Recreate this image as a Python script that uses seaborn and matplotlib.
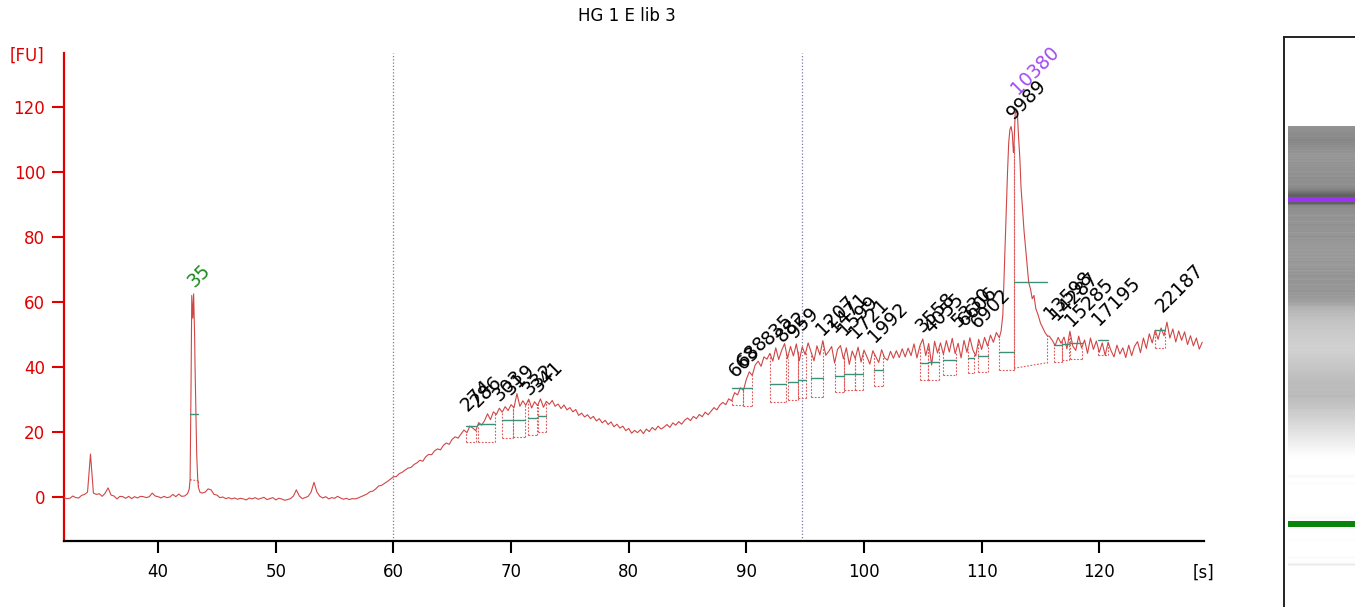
"""Bioanalyzer electropherogram for sample HG 1 E lib 3."""

import matplotlib

matplotlib.use("Agg")
import matplotlib.pyplot as plt
import numpy as np
import pandas as pd
import seaborn as sns

# fluorescence trace on a 0.25 s grid starting at 32 s
T_START, T_STEP = 32.0, 0.25
fu_grid = [
    -0.3, -0.5, -0.4, 0.3, -0.2, -0.3, 0.5, 0.8, 1.5, 13.2, 1.2, 0.8, 1.0, 0.2, 1.2, 2.8, 0.6, 0.3, -0.6, 0.2,
    0.1, -0.4, 0.2, -0.5, 0.1, -0.3, 0.2, 0.1, -0.2, 0.1, 1.2, 0.3, 0.1, -0.3, 0.2, -0.2, 0.0, 0.8, 0.1, 0.9,
    0.2, 0.3, 1.0, 5.5, 62.0, 38.0, 4.5, 1.2, 1.5, 2.5, 2.2, 0.8, 0.6, -0.2, 0.0, -0.5, -0.2, -0.6, -0.3, -0.7,
    -0.4, -0.6, -0.9, -0.3, -0.6, -0.2, -0.7, -0.4, -0.1, -0.8, -0.5, -0.2, -0.9, -0.4, -0.6, -1.0, -0.8, -0.5, 0.3, 2.2,
    0.3, -0.5, -0.2, 0.2, 1.5, 4.5, 1.5, 0.2, -0.3, 0.1, -0.6, -0.2, -0.4, 0.2, -0.3, -0.7, -0.4, -0.8, -0.5, -0.6,
    -0.3, 0.1, 0.5, 0.9, 1.6, 1.8, 2.5, 3.4, 3.6, 4.2, 4.8, 5.5, 6.2, 6.3, 7.2, 7.6, 8.3, 8.9, 9.1, 10.0,
    10.5, 11.3, 11.0, 12.4, 13.1, 13.0, 14.2, 14.8, 14.5, 15.9, 16.6, 16.2, 17.8, 18.5, 18.1, 19.4, 20.6, 19.8, 21.8, 21.2,
    20.4, 22.9, 22.1, 23.5, 25.6, 23.8, 26.2, 25.4, 27.3, 26.1, 27.8, 26.6, 28.4, 27.5, 31.8, 27.9, 29.6, 28.2, 30.1, 27.4,
    29.3, 28.1, 30.2, 27.6, 29.4, 28.5, 29.7, 27.9, 28.6, 27.2, 28.3, 26.8, 27.5, 26.2, 26.9, 25.1, 25.8, 24.6, 25.3, 24.1,
    24.8, 23.4, 24.1, 22.8, 23.6, 22.3, 23.1, 21.6, 22.4, 21.2, 21.8, 20.4, 21.1, 19.6, 20.5, 19.8, 20.7, 19.5, 20.9, 20.1,
    21.4, 20.6, 21.8, 20.9, 21.5, 22.3, 21.4, 22.8, 22.1, 23.2, 22.4, 23.6, 24.3, 23.5, 24.8, 24.1, 25.4, 24.7, 26.1, 25.3,
    26.4, 27.5, 26.8, 28.3, 29.1, 28.4, 30.2, 29.6, 32.1, 31.4, 33.6, 32.8, 36.2, 38.5, 37.4, 40.6, 41.8, 40.2, 43.1, 42.4,
    44.2, 41.8, 45.9, 42.3, 45.1, 47.2, 42.6, 46.3, 43.4, 47.1, 41.9, 46.2, 43.8, 47.4, 44.6, 41.9, 46.5, 43.7, 48.1, 43.6,
    44.8, 46.3, 41.2, 45.4, 46.6, 42.5, 45.9, 40.8, 44.9, 42.6, 46.1, 41.5, 45.2, 43.1, 40.9, 45.0, 43.2, 41.4, 45.3, 42.8,
    42.1, 44.8, 42.7, 45.0, 42.9, 45.6, 43.1, 45.8, 43.5, 47.1, 42.8, 46.5, 48.6, 43.5, 47.2, 40.6, 47.9, 44.3, 47.4, 43.9,
    48.1, 44.6, 48.8, 44.1, 47.3, 42.8, 48.2, 44.5, 49.0, 45.3, 43.4, 48.5, 45.4, 49.1, 46.4, 49.8, 47.6, 50.6, 52.4, 57.8,
    60.0, 90.0, 110.0, 115.0, 118.0, 105.0, 80.0, 65.0, 62.0, 60.0, 57.0, 54.0, 52.0, 51.0, 50.0, 49.5, 48.2, 46.6, 49.1, 47.3,
    49.2, 45.6, 51.0, 46.4, 45.1, 49.5, 45.8, 48.3, 44.2, 48.9, 45.4, 48.0, 44.5, 47.4, 43.6, 47.6, 45.0, 43.1, 46.7, 44.0,
    45.9, 42.9, 46.7, 43.5, 46.4, 47.8, 44.4, 48.9, 45.7, 50.2, 47.4, 51.3, 48.5, 52.0, 49.6, 53.8, 48.9, 51.7, 47.7, 51.1,
    48.2, 50.8, 46.9, 49.6, 46.5, 48.9, 45.5, 47.6,
]

# finer sampling across the lower (35 bp) and upper (10380 bp) markers
lower_t = [42.5, 42.65, 42.72, 42.8, 42.86, 42.95, 43.02, 43.1, 43.14, 43.2, 43.28, 43.36, 43.42, 43.55]
lower_fu = [1.0, 2.5, 5.5, 35.0, 62.0, 55.0, 62.5, 50.0, 40.0, 28.0, 13.0, 6.0, 3.0, 1.5]
upper_t = [111.5, 111.65, 111.8, 111.9, 112.0, 112.1, 112.2, 112.3, 112.4, 112.5, 112.6, 112.7, 112.75,
           112.85, 112.95, 113.05, 113.15, 113.25, 113.35, 113.45, 113.6, 113.75, 114.0, 114.15, 114.3,
           114.45, 114.6, 114.8, 115.0, 115.2, 115.4, 115.6]
upper_fu = [49, 51, 56, 67, 78, 89, 100, 109, 113, 114, 112, 106, 108,
            118, 119, 117, 110, 104, 95, 90, 82, 76, 66, 64, 61,
            62, 58, 56, 53.5, 52, 50.5, 49.5]

# integrated peaks: start/end time, baseline at start/end, mid-height marker
pk_t0 = [42.72, 66.2, 67.2, 69.2, 70.2, 71.45, 72.3, 88.8, 89.7, 92.0, 93.5, 94.35, 95.5, 97.5, 98.3, 99.2,
         100.85, 104.75, 105.4, 106.7, 108.8, 109.7, 111.5, 112.75, 116.15, 116.85, 117.55, 119.9, 124.75]
pk_t1 = [43.42, 67.05, 68.6, 70.15, 71.15, 72.2, 73.0, 89.7, 90.5, 93.4, 94.35, 95.05, 96.5, 98.3, 99.2, 99.95,
         101.6, 105.4, 106.4, 107.8, 109.35, 110.55, 112.75, 115.55, 116.85, 117.4, 118.5, 120.75, 125.6]
pk_b0 = [5.3, 17.0, 17.0, 18.0, 18.6, 19.1, 20.1, 28.3, 28.0, 29.3, 29.8, 30.4, 30.9, 32.4, 32.9, 32.9,
         34.2, 36.0, 36.0, 37.5, 38.0, 38.6, 39.1, 39.6, 41.6, 42.2, 42.4, 43.7, 45.7]
pk_b1 = [5.0, 17.0, 17.0, 18.0, 18.6, 19.1, 20.1, 28.3, 28.0, 29.3, 29.8, 30.4, 30.9, 32.4, 32.9, 32.9,
         34.2, 36.0, 36.0, 37.5, 38.0, 38.6, 39.1, 41.3, 41.6, 42.2, 42.4, 43.7, 45.7]
pk_mid = [25.5, 21.9, 22.4, 23.7, 23.7, 24.2, 24.9, 33.6, 33.6, 34.7, 35.3, 36.0, 36.7, 37.2, 37.8, 37.8,
          39.1, 41.1, 41.6, 42.2, 42.7, 43.4, 44.7, 66.2, 46.8, 47.1, 47.5, 48.3, 51.4]

# peak sizes [bp] and where their labels sit
size_labels = ["35", "274", "286", "303", "319", "332", "341", "663", "688", "835", "882", "959", "1207",
               "1471", "1599", "1721", "1992", "3558", "4055", "5330", "6606", "6902", "9989", "10380",
               "13598", "14287", "15285", "17195", "22187"]
label_t = [43.1, 66.3, 67.2, 69.0, 70.0, 71.6, 72.3, 89.1, 89.8, 91.9, 93.1, 94.1, 96.5,
           97.5, 98.4, 99.3, 100.9, 104.95, 105.7, 108.0, 108.6, 109.7, 112.7, 113.1,
           115.86, 116.4, 117.7, 120.0, 125.4]
label_fu = [64.3, 26.0, 27.5, 29.3, 31.2, 31.0, 32.0, 36.5, 39.6, 46.5, 47.5, 48.5, 49.5,
            50.5, 49.5, 48.5, 47.4, 50.4, 50.0, 51.9, 52.2, 51.6, 116.0, 123.7,
            54.5, 54.0, 52.3, 52.6, 56.5]

# boundaries of the analysis region
region_t = [60.0, 94.75]

x_ticks = [40, 50, 60, 70, 80, 90, 100, 110, 120]
y_ticks = [0, 20, 40, 60, 80, 100, 120]

RED = "#e00000"
TRACE = "#d04646"
BOX = "#e05a5a"
MID = "#3f8f78"
LABEL_COLORS = {"35": "#1e8c1e", "10380": "#a24cf0"}
BAND_COLORS = {"35": "#0a840a", "10380": "#9b34f0"}

# assemble the trace: grid points plus the finer marker samples
grid = pd.DataFrame({"time": T_START + T_STEP * np.arange(len(fu_grid)), "fu": fu_grid})
for t_det in (lower_t, upper_t):
    grid = grid[(grid["time"] < min(t_det)) | (grid["time"] > max(t_det))]
trace = pd.concat(
    [grid, pd.DataFrame({"time": lower_t, "fu": lower_fu}), pd.DataFrame({"time": upper_t, "fu": upper_fu})]
).sort_values("time").reset_index(drop=True)
tr_t = trace["time"].to_numpy()
tr_fu = trace["fu"].to_numpy()

sns.set_style("white")
plt.rcParams["font.family"] = ["DejaVu Sans"]
plt.rcParams["text.color"] = "black"

W, H = 1355, 607
fig = plt.figure(figsize=(W / 100, H / 100), dpi=100)
ax = fig.add_axes([64 / W, 1 - 541 / H, (1204 - 64) / W, (541 - 53) / H])

for t in region_t:
    ax.axvline(t, color="#7a7aa8", lw=0.9, ls=(0, (1, 1.6)), zorder=1)

dash = dict(color=BOX, lw=0.8, ls=(0, (1.6, 1.4)), zorder=2)
for t0, t1, b0, b1, mid in zip(pk_t0, pk_t1, pk_b0, pk_b1, pk_mid):
    ax.plot([t0, t0], [b0, np.interp(t0, tr_t, tr_fu)], **dash)
    ax.plot([t1, t1], [b1, np.interp(t1, tr_t, tr_fu)], **dash)
    ax.plot([t0, t1], [b0, b1], **dash)
    ax.plot([t0, t1], [mid, mid], color=MID, lw=1.0, zorder=4)

sns.lineplot(data=trace, x="time", y="fu", ax=ax, color=TRACE, lw=0.8,
             estimator=None, sort=False, zorder=3)

for txt, t, fu in zip(size_labels, label_t, label_fu):
    ax.text(t, fu, txt, rotation=45, rotation_mode="anchor", ha="left", va="baseline",
            fontsize=13.5, color=LABEL_COLORS.get(txt, "black"), zorder=5)

ax.set_xlim(32.0, 128.9)
ax.set_ylim(-13.54, 136.6)
ax.set_xticks(x_ticks)
ax.set_yticks(y_ticks)
ax.set_xlabel("")
ax.set_ylabel("")
for side in ("top", "right"):
    ax.spines[side].set_visible(False)
ax.spines["left"].set_color(RED)
ax.spines["left"].set_linewidth(1.6)
ax.spines["bottom"].set_color("black")
ax.spines["bottom"].set_linewidth(1.6)
ax.tick_params(axis="y", colors=RED, labelsize=12, length=8.5, width=1.5, pad=5, direction="out", left=True)
ax.tick_params(axis="x", colors="black", labelsize=12, length=8.5, width=1.5, pad=7, direction="out", bottom=True)

fig.text(627 / W, 1 - 16 / H, "HG 1 E lib 3", ha="center", va="center", fontsize=12, color="black")
fig.text(27 / W, 1 - 56 / H, "[FU]", ha="center", va="center", fontsize=12, color=RED)
fig.text(1204 / W, 1 - 573 / H, "[s]", ha="center", va="center", fontsize=12, color="black")

# gel-like lane: intensity follows the trace, time runs bottom to top
gel = fig.add_axes([1284 / W, 0.0, 1 - 1284 / W, 1 - 37 / H])
gel_t = np.arange(tr_t[0], tr_t[-1], 0.05)
gel_gray = np.clip(1 - np.interp(gel_t, tr_t, tr_fu) / 110.0, 0.38, 1.0)
gel.imshow(gel_gray[:, None], extent=[0.06, 1.0, gel_t[0], gel_t[-1]], origin="lower",
           aspect="auto", cmap="gray", vmin=0, vmax=1, interpolation="bilinear")
for txt, t in (("35", 43.0), ("10380", 112.9)):
    gel.axhspan(t - 0.55, t + 0.55, xmin=0.06, xmax=1.0, color=BAND_COLORS[txt], lw=0)
gel.set_xlim(0, 1)
gel.set_ylim(25.1, 148.0)
gel.set_xticks([])
gel.set_yticks([])
for side in ("right", "bottom"):
    gel.spines[side].set_visible(False)
for side in ("left", "top"):
    gel.spines[side].set_color("#222222")
    gel.spines[side].set_linewidth(1.4)

fig.savefig("out.png", dpi=100)
plt.close(fig)
